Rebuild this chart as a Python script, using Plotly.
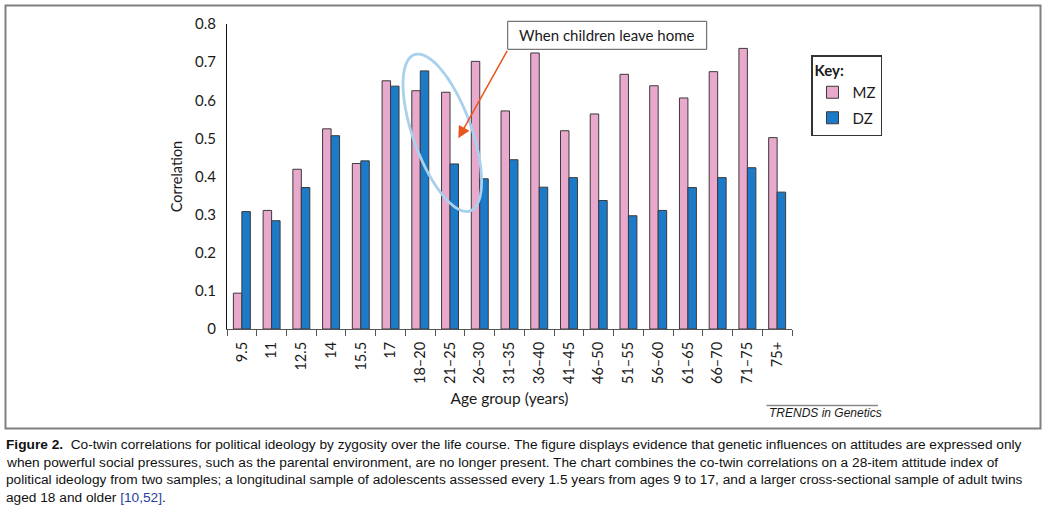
import math
import plotly.graph_objects as go

categories = ["9.5", "11", "12.5", "14", "15.5", "17", "18–20", "21–25", "26–30",
              "31–35", "36–40", "41–45", "46–50", "51–55", "56–60", "61–65",
              "66–70", "71–75", "75+"]
mz_values = [0.094, 0.311, 0.419, 0.525, 0.434, 0.651, 0.625, 0.621, 0.702, 0.572,
             0.724, 0.520, 0.564, 0.668, 0.638, 0.606, 0.675, 0.736, 0.502]
dz_values = [0.308, 0.284, 0.371, 0.507, 0.441, 0.637, 0.677, 0.433, 0.394, 0.444,
             0.372, 0.397, 0.337, 0.297, 0.311, 0.371, 0.397, 0.423, 0.359]
y_ticks = [0, 0.1, 0.2, 0.3, 0.4, 0.5, 0.6, 0.7, 0.8]
y_tick_labels = ["0", "0.1", "0.2", "0.3", "0.4", "0.5", "0.6", "0.7", "0.8"]

caption_lines = [
    "<b>Figure 2.</b>  Co-twin correlations for political ideology by zygosity over the life course. The figure displays evidence that genetic influences on attitudes are expressed only",
    "when powerful social pressures, such as the parental environment, are no longer present. The chart combines the co-twin correlations on a 28-item attitude index of",
    "political ideology from two samples; a longitudinal sample of adolescents assessed every 1.5 years from ages 9 to 17, and a larger cross-sectional sample of adult twins",
    "aged 18 and older <span style='color:#2b3f9e'>[10,52]</span>.",
]

W, H = 1050, 505
L, R, T, B = 227, 258, 24, 176
PW = W - L - R
PH = H - T - B


def px(x):
    return (x - L) / PW


def py(y):
    return (H - B - y) / PH


CHART_FONT = "Lato"
PINK = "#E9A9CD"
BLUE = "#1C7BC9"
EDGE = "#3a3a3a"

fig = go.Figure()
fig.add_trace(go.Bar(x=categories, y=mz_values, name="MZ", legendgroup="MZ",
                     marker=dict(color=PINK, line=dict(color=EDGE, width=1))))
fig.add_trace(go.Bar(x=categories, y=dz_values, name="DZ", legendgroup="DZ",
                     marker=dict(color=BLUE, line=dict(color=EDGE, width=1))))

shapes = []
annotations = []

# outer frame
shapes.append(dict(type="rect", xref="paper", yref="paper",
                   x0=px(5.5), x1=px(1040.5), y0=py(428.5), y1=py(5.5),
                   line=dict(color="#808080", width=2), layer="below"))

# ellipse (highlight)
cx, cy, a, b, th = 442.3, 132.8, 83.0, 29.3, math.radians(19.7)
pts = []
for i in range(73):
    t = 2 * math.pi * i / 72
    X = cx + a * math.cos(t) * (-math.sin(th)) + b * math.sin(t) * math.cos(th)
    Y = cy + a * math.cos(t) * (-math.cos(th)) + b * math.sin(t) * (-math.sin(th))
    pts.append((px(X), py(Y)))
path = "M " + " L ".join(f"{x:.5f},{y:.5f}" for x, y in pts) + " Z"
shapes.append(dict(type="path", xref="paper", yref="paper", path=path,
                   line=dict(color="#A9D0EC", width=2.8)))

# callout box
shapes.append(dict(type="rect", xref="paper", yref="paper",
                   x0=px(507.7), x1=px(706.7), y0=py(49.3), y1=py(21.3),
                   line=dict(color="#555555", width=1), fillcolor="white"))
annotations.append(dict(xref="paper", yref="paper", x=px(607.2), y=py(35.5),
                        text="When children leave home", showarrow=False,
                        font=dict(family=CHART_FONT, size=15, color="#1a1a1a"),
                        xanchor="center", yanchor="middle"))
# arrow
annotations.append(dict(xref="paper", yref="paper", x=px(458.3), y=py(138.3),
                        ax=508 - 458.3, ay=49.3 - 138.3, text="", showarrow=True,
                        arrowcolor="#E8561E", arrowwidth=1.5, arrowhead=2,
                        arrowsize=1.6, standoff=0, startstandoff=0))

# TRENDS in Genetics
shapes.append(dict(type="line", xref="paper", yref="paper",
                   x0=px(766.5), x1=px(878), y0=py(405.5), y1=py(405.5),
                   line=dict(color="#8a8a8a", width=1.5)))
annotations.append(dict(xref="paper", yref="paper", x=px(766.5), y=py(412.5),
                        text="<i>TRENDS in Genetics</i>", showarrow=False,
                        font=dict(family="Liberation Sans", size=12, color="#1a1a1a"),
                        xanchor="left", yanchor="middle"))

# caption
cap_y = [444.5, 462.5, 479.5, 497]
for line, yy in zip(caption_lines, cap_y):
    annotations.append(dict(xref="paper", yref="paper", x=px(4), y=py(yy),
                            text=line, showarrow=False,
                            font=dict(family="Liberation Sans", size=13.7, color="#111111"),
                            xanchor="left", yanchor="middle"))

fig.update_layout(
    width=W, height=H,
    margin=dict(l=L, r=R, t=T, b=B, pad=0),
    paper_bgcolor="white", plot_bgcolor="white",
    barmode="group", bargap=0.43, bargroupgap=0,
    font=dict(family=CHART_FONT, size=14, color="#1a1a1a"),
    shapes=shapes, annotations=annotations,
    legend=dict(
        x=px(811), y=py(55), xanchor="left", yanchor="top",
        bordercolor="#333333", borderwidth=1.5, bgcolor="white",
        title=dict(text="<b>Key:</b>", font=dict(family=CHART_FONT, size=15)),
        font=dict(family=CHART_FONT, size=15, color="#1a1a1a"),
        traceorder="grouped", tracegroupgap=3, itemwidth=30,
    ),
    xaxis=dict(
        type="category", showline=True, linecolor="#555555", linewidth=1.2,
        ticks="outside", tickson="boundaries", ticklen=6, tickcolor="#555555",
        tickangle=-90, tickfont=dict(family=CHART_FONT, size=14.5),
        ticklabelstandoff=6,
        title=dict(text="Age group (years)", font=dict(family=CHART_FONT, size=15.5),
                   standoff=10),
        showgrid=False, zeroline=False,
    ),
    yaxis=dict(
        range=[0, 0.8], tickvals=y_ticks, ticktext=y_tick_labels,
        showline=True, linecolor="#111111", linewidth=1.2, ticks="",
        ticklabelstandoff=7, tickfont=dict(family=CHART_FONT, size=15),
        title=dict(text="Correlation", font=dict(family=CHART_FONT, size=14.5),
                   standoff=8),
        showgrid=False, zeroline=False,
    ),
)

fig.write_html("out.html", config={"displayModeBar": False},
               post_script="document.body.style.margin='0';document.body.style.overflow='hidden';")
